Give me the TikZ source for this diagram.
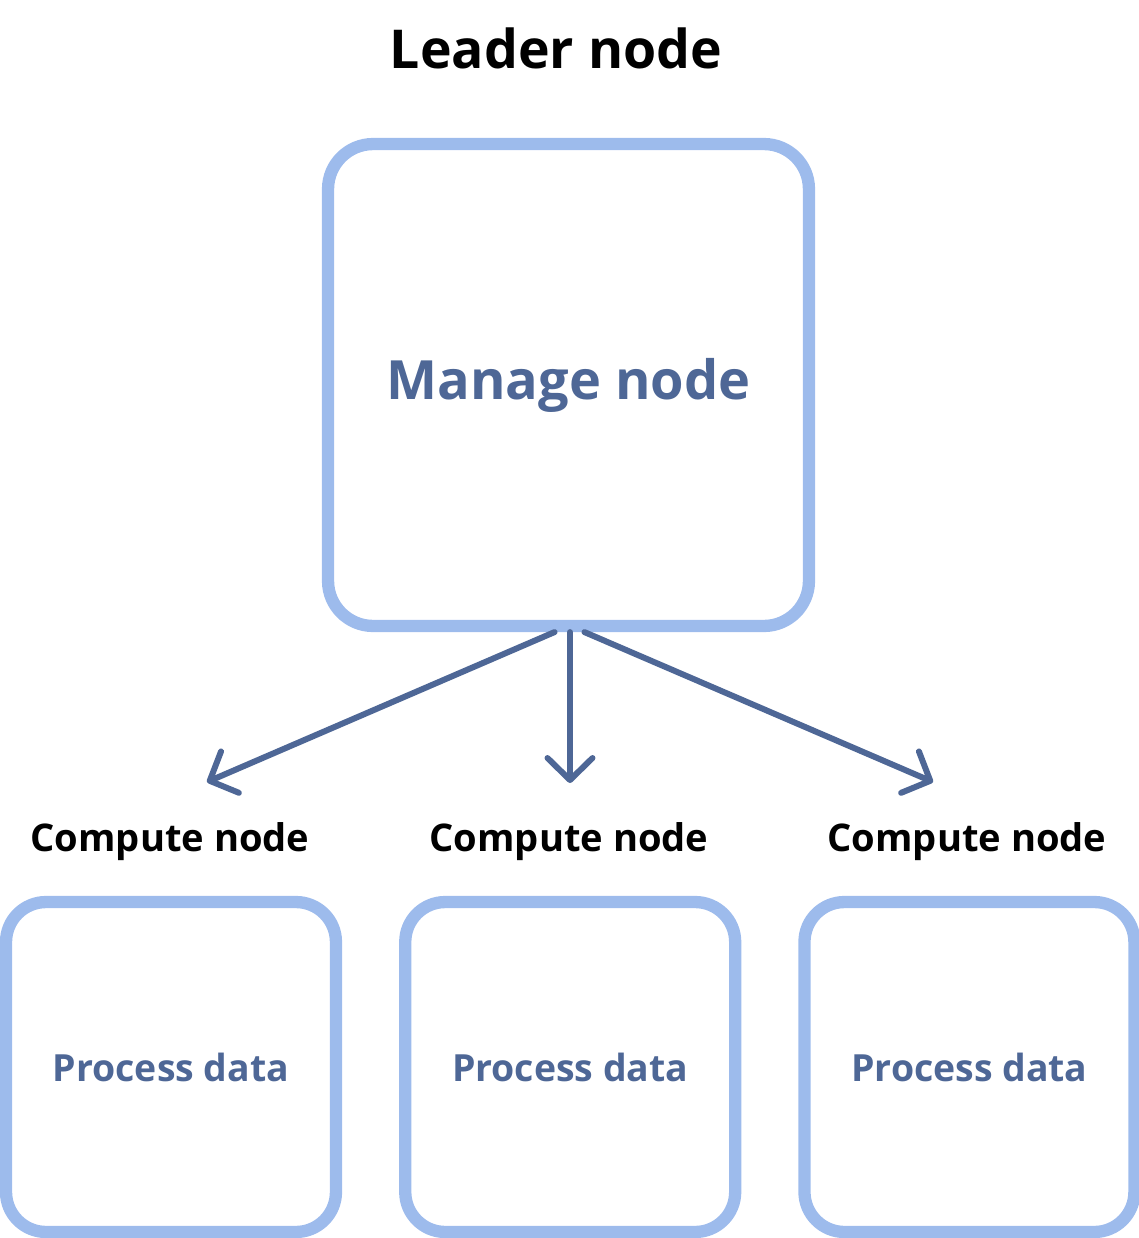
\documentclass[tikz,border=0pt]{standalone}
\usepackage{fontspec}
\setmainfont{Open Sans}
\usepackage{tikz}
\usetikzlibrary{positioning,arrows.meta}
\definecolor{boxblue}{RGB}{157,187,236}
\definecolor{inkblue}{RGB}{78,103,150}

\begin{document}
\begin{tikzpicture}[x=0.02cm, y=-0.02cm,
  bigbox/.style={draw=boxblue, line width=7pt, rounded corners=0.9cm,
                 minimum width=9.62cm, minimum height=9.64cm,
                 font=\bfseries\fontsize{30.8}{36}\selectfont, text=inkblue},
  smallbox/.style={draw=boxblue, line width=7pt, rounded corners=0.8cm,
                   minimum width=6.6cm, minimum height=6.6cm,
                   font=\bfseries\fontsize{21.3}{26}\selectfont, text=inkblue},
  lbl/.style={font=\bfseries\fontsize{21.7}{26}\selectfont},
  arr/.style={-{Straight Barb[length=4.4mm, width=9mm, round]}, draw=inkblue,
              line width=3.4pt, line cap=round},
]
  \useasboundingbox (0,0) rectangle (1139,1238);

  \node[font=\bfseries\fontsize{30.5}{36}\selectfont] (title) at (556,48) {Leader node};
  \node[bigbox] (manage) at (568.5,385) {Manage node};

  \node[smallbox] (pd1) at (171,1067) {Process data};
  \node[smallbox, right=1.14cm of pd1] (pd2) {Process data};
  \node[smallbox, right=1.14cm of pd2] (pd3) {Process data};

  \node[lbl] (cn1) at (170,842) {Compute node};
  \node[lbl] (cn2) at (569,842) {Compute node};
  \node[lbl] (cn3) at (967,842) {Compute node};

  % arrow ends above the labels
  \coordinate (e1) at (207,782);
  \coordinate (e2) at (570,783);
  \coordinate (e3) at (933,782);

  \draw[arr] ([xshift=-0.28cm]manage.south) -- (e1);
  \draw[arr] ([xshift=0.03cm]manage.south) -- (e2);
  \draw[arr] ([xshift=0.32cm]manage.south) -- (e3);
\end{tikzpicture}
\end{document}
